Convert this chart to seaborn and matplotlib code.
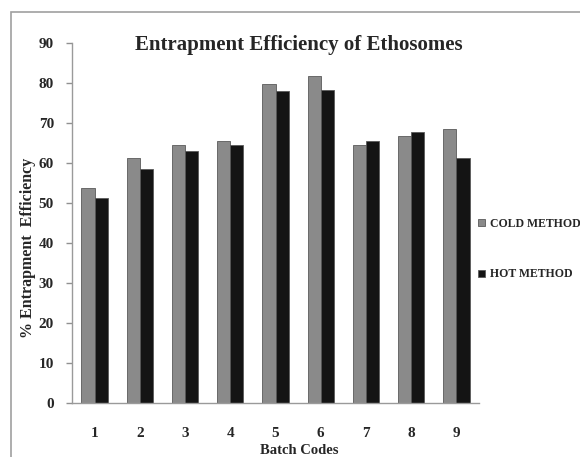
import pandas as pd
import numpy as np
import matplotlib.pyplot as plt
import seaborn as sns
from matplotlib.patches import Rectangle

# values
batch_codes = ["1", "2", "3", "4", "5", "6", "7", "8", "9"]
cold_method = [53.6, 61.1, 64.4, 65.5, 79.7, 81.6, 64.4, 66.7, 68.5]
hot_method = [51.3, 58.5, 63.0, 64.4, 77.9, 78.3, 65.5, 67.7, 61.1]
y_ticks = [0, 10, 20, 30, 40, 50, 60, 70, 80, 90]

data = pd.DataFrame({
    "Batch": batch_codes * 2,
    "Value": cold_method + hot_method,
    "Method": ["COLD METHOD"] * 9 + ["HOT METHOD"] * 9,
})

sns.set_style("white")
plt.rcParams["font.family"] = ["Liberation Serif", "DejaVu Serif"]
plt.rcParams["font.weight"] = "bold"

fig = plt.figure(figsize=(5.8, 4.57), dpi=100)
ax = fig.add_axes([72 / 580, 1 - 403 / 457, 407 / 580, 360.3 / 457])

sns.barplot(
    data=data, x="Batch", y="Value", hue="Method",
    palette={"COLD METHOD": "#8a8a8a", "HOT METHOD": "#141414"},
    width=0.58, saturation=1, ax=ax,
)
for bar in ax.patches:
    bar.set_edgecolor("#5a5a5a")
    bar.set_linewidth(0.6)

ax.set_ylim(0, 90)
ax.set_xlim(-0.5, 8.5)
ax.set_yticks(y_ticks)
ax.set_yticklabels([str(t) for t in y_ticks], fontsize=11, fontweight="bold")
ax.set_xticks(range(9))
ax.set_xticklabels(batch_codes, fontsize=11, fontweight="bold")
ax.set_xticks(np.arange(-0.5, 9, 1), minor=True)
ax.tick_params(axis="x", which="major", length=0, pad=17)
ax.tick_params(axis="x", which="minor", length=4, color="#909090", width=1)
ax.tick_params(axis="y", length=4, color="#909090", width=1, pad=9, left=True)

for side in ["top", "right"]:
    ax.spines[side].set_visible(False)
for side in ["left", "bottom"]:
    ax.spines[side].set_color("#9a9a9a")
    ax.spines[side].set_linewidth(1)

ax.set_xlabel("")
ax.set_ylabel("")
fig.text(299 / 580, 1 - 450 / 457, "Batch Codes", ha="center", va="center",
         fontsize=10.5, fontweight="bold")
fig.text(28 / 580, 1 - 248 / 457, "% Entrapment  Efficiency", rotation=90,
         ha="center", va="center", fontsize=11.5, fontweight="bold")
fig.text(299 / 580, 1 - 45 / 457, "Entrapment Efficiency of Ethosomes",
         ha="center", va="center", fontsize=15, fontweight="bold")

leg = ax.legend(
    loc="center left", bbox_to_anchor=(473 / 580, 1 - 249 / 457),
    bbox_transform=fig.transFigure, frameon=False,
    fontsize=8.5, handlelength=0.6, handleheight=0.6, handletextpad=0.4,
    labelspacing=3.3, borderaxespad=0,
)
for t in leg.get_texts():
    t.set_fontweight("bold")

# outer frame of the original figure
fig.add_artist(Rectangle((11 / 580, -0.2), 1.2, 1.2 - 12 / 457,
                         transform=fig.transFigure, fill=False,
                         edgecolor="#a0a0a0", linewidth=1.2))

fig.savefig("out.png", dpi=100)
